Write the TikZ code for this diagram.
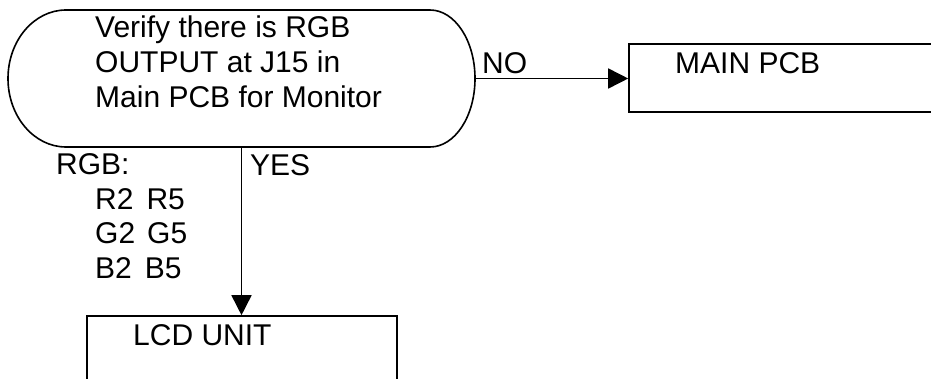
\documentclass[tikz,border=0pt]{standalone}
\usepackage{fontspec}
\setmainfont{Liberation Sans}
\usetikzlibrary{arrows.meta}
\tikzset{
  box/.style={draw, line width=1.6pt, inner sep=0pt},
  lbl/.style={inner sep=0pt, anchor=base west, font=\fontsize{30}{35}\selectfont},
  conn/.style={line width=1.6pt, -{Triangle[length=20pt,width=20pt]}}
}
\begin{document}
\begin{tikzpicture}[x=1pt,y=1pt]
\useasboundingbox (0,0) rectangle (931,378);
\clip (0,0) rectangle (931,378);
% decision stadium
\node[minimum width=467pt, minimum height=137pt, inner sep=0pt] (verify) at (241.5,299.5) {};
\draw[line width=1.6pt] (66,368) -- (430,368)
  arc[start angle=90, end angle=-90, x radius=45, y radius=68.5]
  -- (66,231)
  arc[start angle=270, end angle=90, x radius=58, y radius=68.5] -- cycle;
\node[lbl, align=left] (verifytext) at (95,270) {Verify there is RGB\\OUTPUT at J15 in\\Main PCB for Monitor};
% boxes
\node[box, minimum width=331pt, minimum height=68pt] (mainpcb) at (794.5,300) {};
\node[lbl] (mainpcbtext) at (675,304.5) {MAIN PCB};
\node[box, minimum width=310pt, minimum height=100pt] (lcd) at (242,12) {};
\node[lbl] (lcdtext) at (133,33) {LCD UNIT};
% connectors
\draw[conn] (verify.east) -- (verify.east -| mainpcb.west);
\draw[conn] (verify.south) -- (verify.south |- lcd.north);
% labels
\node[lbl] (no) at (482,304) {NO};
\node[lbl] (yes) at (250,203) {YES};
\node[lbl, align=left, font=\fontsize{30}{34.5}\selectfont] (rgb) at (56,100) {RGB:\\\hspace*{39pt}R2\hspace{13pt}R5\\\hspace*{39pt}G2\hspace{12pt}G5\\\hspace*{39pt}B2\hspace{13pt}B5};
\end{tikzpicture}
\end{document}
